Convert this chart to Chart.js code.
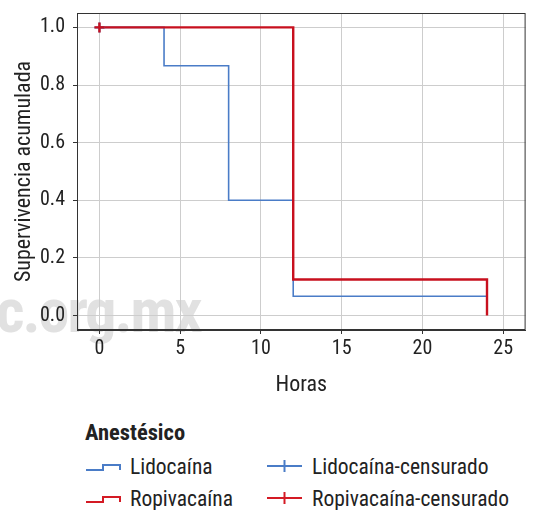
<!DOCTYPE html>
<html lang="es">
<head>
<meta charset="utf-8">
<title>Supervivencia acumulada</title>
<script src="https://cdn.jsdelivr.net/npm/chart.js@4.4.1/dist/chart.umd.min.js"></script>
<style>
  body { margin: 0; background: #fff; font-family: "Roboto Condensed", "Liberation Sans", sans-serif; color: #222; }
  #wrap { position: relative; width: 533px; height: 510px; overflow: hidden; }
  #marca { position: absolute; left: -4px; top: 280px; font-size: 62px; line-height: 1; font-weight: bold;
           color: #e1e1e1; letter-spacing: -2px; z-index: 0; white-space: nowrap; }
  #chartBox { position: absolute; left: 0; top: 0; width: 533px; height: 405px; z-index: 1; }
  .ley { position: absolute; font-size: 21.5px; line-height: 21px; white-space: nowrap; }
  .ley-titulo { font-weight: bold; font-size: 22.5px; }
  .glifo { position: absolute; }
</style>
</head>
<body>
<div id="wrap">
  <div id="marca">c.org.mx</div>
  <div id="chartBox"><canvas id="kmChart" width="533" height="405"></canvas></div>
  <div id="leyenda"></div>
</div>
<script>
// Tiempos (horas) y supervivencia acumulada por grupo
const horasLidocaina = [0, 4, 8, 12, 24];
const supervLidocaina = [1.0, 0.867, 0.4, 0.067, 0.067];
const horasRopivacaina = [0, 12, 24];
const supervRopivacaina = [1.0, 0.125, 0.0];

// Observaciones censuradas
const censLidoX = [0];
const censLidoY = [1.0];
const censRopiX = [0];
const censRopiY = [1.0];

const xTicks = [0, 5, 10, 15, 20, 25];
const yTicks = [0, 0.2, 0.4, 0.6, 0.8, 1.0];

const azul = '#4a7cc7';
const rojo = '#c8101e';

const toPoints = (xs, ys) => xs.map((x, i) => ({ x: x, y: ys[i] }));

const marcoPanel = {
    id: 'marcoPanel',
    afterDatasetsDraw(chart) {
        const a = chart.chartArea;
        const ctx = chart.ctx;
        ctx.save();
        ctx.strokeStyle = '#333';
        ctx.lineWidth = 1;
        ctx.strokeRect(a.left + 0.5, a.top + 0.5, a.right - a.left - 1, a.bottom - a.top - 1);
        ctx.restore();
    }
};

const fuente = "'Roboto Condensed', 'Liberation Sans', sans-serif";

new Chart(document.getElementById('kmChart').getContext('2d'), {
    type: 'line',
    data: {
        datasets: [
            {
                label: 'Ropivacaína',
                data: toPoints(horasRopivacaina, supervRopivacaina),
                borderColor: rojo,
                borderWidth: 2.4,
                stepped: 'before',
                pointRadius: 0,
                order: 1
            },
            {
                label: 'Lidocaína',
                data: toPoints(horasLidocaina, supervLidocaina),
                borderColor: azul,
                borderWidth: 1.6,
                stepped: 'before',
                pointRadius: 0,
                order: 2
            },
            {
                label: 'Lidocaína-censurado',
                type: 'scatter',
                data: toPoints(censLidoX, censLidoY),
                borderColor: azul,
                pointStyle: 'cross',
                pointRadius: 5,
                borderWidth: 2,
                order: 0
            },
            {
                label: 'Ropivacaína-censurado',
                type: 'scatter',
                data: toPoints(censRopiX, censRopiY),
                borderColor: rojo,
                pointStyle: 'cross',
                pointRadius: 5,
                borderWidth: 2.4,
                order: -1
            }
        ]
    },
    options: {
        responsive: false,
        animation: false,
        devicePixelRatio: 1,
        layout: { padding: { top: 13, right: 6, left: 0, bottom: 0 } },
        plugins: { legend: { display: false }, tooltip: { enabled: false } },
        scales: {
            x: {
                type: 'linear',
                min: -1.39,
                max: 26.39,
                afterBuildTicks: s => { s.ticks = xTicks.map(v => ({ value: v })); },
                afterFit: s => { s.height = 75; s.paddingLeft = 0; s.paddingRight = 0; },
                grid: { color: '#cdcdcd', lineWidth: 1, tickLength: 4, tickColor: '#333' },
                border: { color: '#333', width: 1 },
                ticks: { color: '#222', padding: 3, maxRotation: 0, font: { family: fuente, size: 20 } },
                title: { display: true, text: 'Horas', color: '#222', padding: { top: 0, bottom: 6 },
                         font: { family: fuente, size: 22 } }
            },
            y: {
                type: 'linear',
                min: -0.05,
                max: 1.05,
                afterBuildTicks: s => { s.ticks = yTicks.map(v => ({ value: v })); },
                afterFit: s => { s.width = 77; s.paddingTop = 0; s.paddingBottom = 0; },
                grid: { color: '#cdcdcd', lineWidth: 1, tickLength: 4, tickColor: '#333' },
                border: { color: '#333', width: 1 },
                ticks: { color: '#222', padding: 8, font: { family: fuente, size: 20 },
                         callback: v => v.toFixed(1) },
                title: { display: true, text: 'Supervivencia acumulada', color: '#222', padding: { top: 11, bottom: 0 },
                         font: { family: fuente, size: 22 } }
            }
        }
    },
    plugins: [marcoPanel]
});

// Leyenda en dos columnas, como en ggplot
const leyenda = document.getElementById('leyenda');
const svgNS = 'http://www.w3.org/2000/svg';

function glifo(tipo, color, x, top) {
    const svg = document.createElementNS(svgNS, 'svg');
    svg.setAttribute('width', 36);
    svg.setAttribute('height', 24);
    svg.setAttribute('class', 'glifo');
    svg.style.left = x + 'px';
    svg.style.top = top + 'px';
    if (tipo === 'escalon') {
        const p = document.createElementNS(svgNS, 'polyline');
        p.setAttribute('points', '1,16 18,16 18,11 35,11 35,16');
        p.setAttribute('fill', 'none');
        p.setAttribute('stroke', color);
        p.setAttribute('stroke-width', 2);
        svg.appendChild(p);
    } else {
        const h = document.createElementNS(svgNS, 'line');
        h.setAttribute('x1', 0); h.setAttribute('y1', 12); h.setAttribute('x2', 35); h.setAttribute('y2', 12);
        h.setAttribute('stroke', color); h.setAttribute('stroke-width', 2);
        const v = document.createElementNS(svgNS, 'line');
        v.setAttribute('x1', 17.5); v.setAttribute('y1', 6); v.setAttribute('x2', 17.5); v.setAttribute('y2', 18);
        v.setAttribute('stroke', color); v.setAttribute('stroke-width', 2);
        svg.appendChild(h); svg.appendChild(v);
    }
    leyenda.appendChild(svg);
}

function texto(t, x, top, cls) {
    const d = document.createElement('div');
    d.className = 'ley' + (cls ? ' ' + cls : '');
    d.textContent = t;
    d.style.left = x + 'px';
    d.style.top = top + 'px';
    leyenda.appendChild(d);
}

texto('Anestésico', 85, 422, 'ley-titulo');

glifo('escalon', azul, 85, 454);
texto('Lidocaína', 130, 456);
glifo('cruz', azul, 267, 454);
texto('Lidocaína-censurado', 312, 456);

glifo('escalon', '#d41a24', 85, 486);
texto('Ropivacaína', 130, 488);
glifo('cruz', '#d41a24', 267, 486);
texto('Ropivacaína-censurado', 312, 488);
</script>
</body>
</html>
